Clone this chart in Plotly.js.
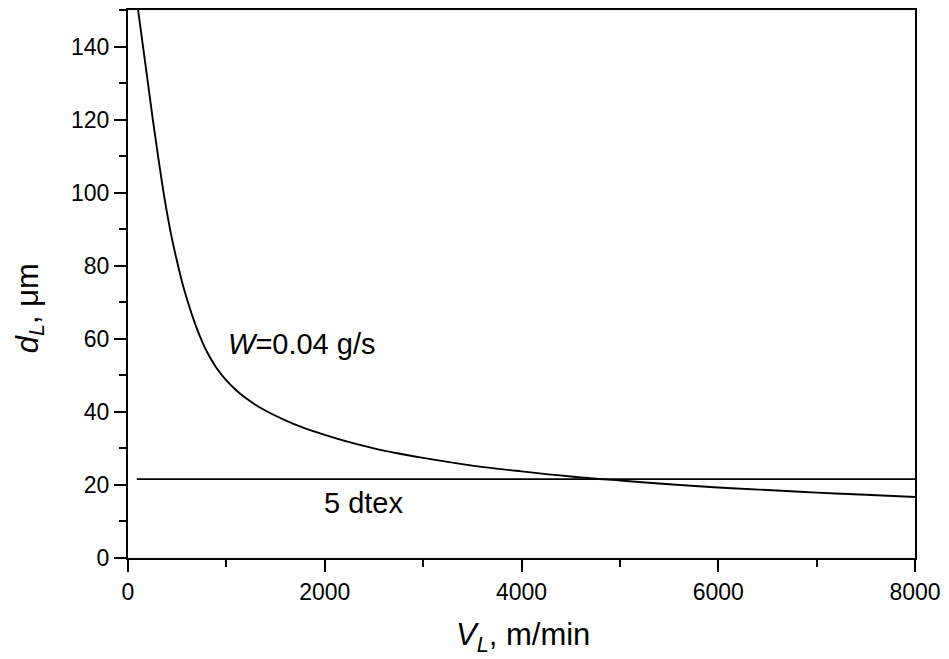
<!DOCTYPE html>
<html>
<head>
<meta charset="utf-8">
<script src="https://cdn.plot.ly/plotly-3.0.1.min.js"></script>
<style>html,body{margin:0;padding:0;background:#fff;}#chart{width:949px;height:659px;}</style>
</head>
<body>
<div id="chart"></div>
<script>
// Values
const speedVL = [90, 100, 150, 200, 250, 300, 350, 400, 450, 500, 550, 600, 650, 700, 750, 800, 900, 1000, 1100, 1200, 1400, 1600, 1800, 2000, 2250, 2500, 2750, 3000, 3500, 4000, 4500, 5000, 5500, 6000, 6500, 7000, 7500, 8000];
const diameterDL = [152.5, 150.5, 140.5, 130.5, 120.5, 111, 102, 94, 87, 81, 75.5, 70.8, 66.6, 62.8, 59.5, 56.6, 52, 48.6, 45.9, 43.7, 40.3, 37.7, 35.5, 33.7, 31.7, 30.0, 28.6, 27.4, 25.3, 23.7, 22.3, 21.2, 20.2, 19.3, 18.6, 17.9, 17.3, 16.7];
const dtexLineX = [90, 8000];
const dtexLineY = [21.6, 21.6];
const xTickVals = [0, 2000, 4000, 6000, 8000];
const yTickVals = [0, 20, 40, 60, 80, 100, 120, 140];

const FONT = 'Liberation Sans, Arial, sans-serif';

const traces = [
  {x: speedVL, y: diameterDL, mode: 'lines', line: {color: '#000', width: 1.9, shape: 'spline', smoothing: 1}, showlegend: false, hoverinfo: 'skip'},
  {x: dtexLineX, y: dtexLineY, mode: 'lines', line: {color: '#000', width: 1.9}, showlegend: false, hoverinfo: 'skip'}
];

const layout = {
  width: 949, height: 659,
  margin: {l: 128, r: 34, t: 10, b: 101},
  paper_bgcolor: '#fff', plot_bgcolor: '#fff',
  font: {family: FONT, color: '#000', size: 23},
  xaxis: {
    range: [0, 8000], tickvals: xTickVals, ticks: 'outside', ticklen: 12, tickwidth: 2, tickcolor: '#000',
    showline: true, linewidth: 2, linecolor: '#000', mirror: true, showgrid: false, zeroline: false,
    minor: {dtick: 1000, ticks: 'outside', ticklen: 7, tickwidth: 2, tickcolor: '#000', showgrid: false},
    tickfont: {size: 23}
  },
  yaxis: {
    range: [0, 150], tickvals: yTickVals, ticks: 'outside', ticklen: 12, tickwidth: 2, tickcolor: '#000',
    showline: true, linewidth: 2, linecolor: '#000', mirror: true, showgrid: false, zeroline: false,
    minor: {dtick: 10, ticks: 'outside', ticklen: 7, tickwidth: 2, tickcolor: '#000', showgrid: false},
    tickfont: {size: 23}
  },
  annotations: [
    {xref: 'paper', yref: 'paper', x: 0.502, y: -0.145, text: '<i>V</i><sub><i>L</i></sub>, m/min', showarrow: false, font: {size: 31}, xanchor: 'center', yanchor: 'middle'},
    {xref: 'paper', yref: 'paper', x: -0.125, y: 0.455, text: '<i>d</i><sub><i>L</i></sub>, μm', showarrow: false, font: {size: 31}, textangle: -90, xanchor: 'center', yanchor: 'middle'},
    {xref: 'x', yref: 'y', x: 1768, y: 58.6, text: '<i>W</i>=0.04 g/s', showarrow: false, font: {size: 29}, xanchor: 'center', yanchor: 'middle'},
    {xref: 'x', yref: 'y', x: 2398, y: 15.1, text: '5 dtex', showarrow: false, font: {size: 29}, xanchor: 'center', yanchor: 'middle'}
  ]
};

Plotly.newPlot('chart', traces, layout, {displayModeBar: false, staticPlot: true});
</script>
</body>
</html>
